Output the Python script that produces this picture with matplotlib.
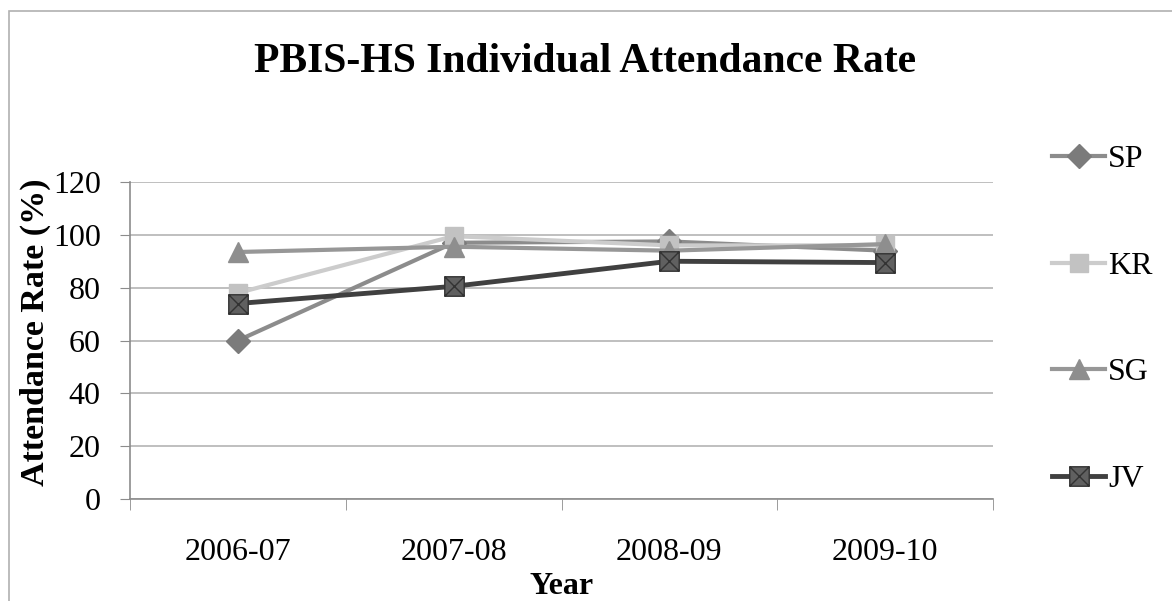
import numpy as np
import matplotlib
matplotlib.use("Agg")
import matplotlib.pyplot as plt
from matplotlib.path import Path
from matplotlib.patches import Rectangle

plt.rcParams['font.family'] = ['Liberation Serif', 'DejaVu Serif']

years = ['2006-07', '2007-08', '2008-09', '2009-10']
sp = [60, 97, 97.5, 94]
kr = [78, 99.5, 96, 96]
sg = [93.5, 95.5, 94, 96.5]
jv = [74, 80.5, 90, 89.5]

# square with an X through it, for the JV series
box_x = Path(
    [(-1, -1), (1, -1), (1, 1), (-1, 1), (-1, -1), (-1, -1), (1, 1), (-1, 1), (1, -1)],
    [Path.MOVETO, Path.LINETO, Path.LINETO, Path.LINETO, Path.CLOSEPOLY,
     Path.MOVETO, Path.LINETO, Path.MOVETO, Path.LINETO])

fig = plt.figure(figsize=(11.72, 6.01), dpi=100)
ax = fig.add_axes([130 / 1172, 1 - 499 / 601, 863 / 1172, 317 / 601])

x = np.arange(len(years))
ax.plot(x, sp, color='#8c8c8c', lw=3, marker='D', ms=12, mfc='#7b7b7b', mec='#7b7b7b', label='SP', zorder=3)
ax.plot(x, kr, color='#cccccc', lw=3, marker='s', ms=13, mfc='#c2c2c2', mec='#c2c2c2', label='KR', zorder=3)
ax.plot(x, sg, color='#979797', lw=3, marker='^', ms=15, mfc='#8e8e8e', mec='#8e8e8e', label='SG', zorder=3)
ax.plot(x, jv, color='#404040', lw=3.5, marker=box_x, ms=14, mfc='#606060', mec='#333333', mew=1, label='JV', zorder=4)

ax.set_xlim(-0.5, 3.5)
ax.set_ylim(0, 120)
ax.set_yticks(range(0, 121, 20))
ax.set_xticks(x)
ax.set_xticklabels(years)
ax.set_xticks(np.arange(-0.5, 4, 1), minor=True)
ax.tick_params(axis='x', which='major', length=0, labelsize=23, pad=28)
ax.tick_params(axis='x', which='minor', length=8, color='#8c8c8c', direction='out')
ax.tick_params(axis='y', length=7, color='#8c8c8c', labelsize=23, pad=14)
ax.grid(axis='y', color='#b4b4b4', lw=1.2)
ax.set_axisbelow(True)
for s in ['top', 'right']:
    ax.spines[s].set_visible(False)
for s in ['left', 'bottom']:
    ax.spines[s].set_color('#8c8c8c')
    ax.spines[s].set_linewidth(1.2)

ax.set_xlabel('Year', fontsize=23, fontweight='bold', labelpad=4)
ax.set_ylabel('Attendance Rate (%)', fontsize=24.5, fontweight='bold')
ax.yaxis.set_label_coords(-0.092, 0.527)
fig.text(585 / 1172, 1 - 62 / 601, 'PBIS-HS Individual Attendance Rate',
         ha='center', va='center', fontsize=30, fontweight='bold')

fig.legend(loc='upper left', bbox_to_anchor=(1039 / 1172, 1 - 132 / 601), frameon=False,
           fontsize=23, handlelength=1.68, handletextpad=0.08, labelspacing=2.42,
           borderaxespad=0)

# outer chart border
fig.patches.append(Rectangle((9 / 1172, -0.05), 1.2, 1 - 11 / 601 + 0.05,
                             transform=fig.transFigure, fill=False,
                             edgecolor='#b0b0b0', lw=1.2))

fig.savefig('out.png', dpi=100)
